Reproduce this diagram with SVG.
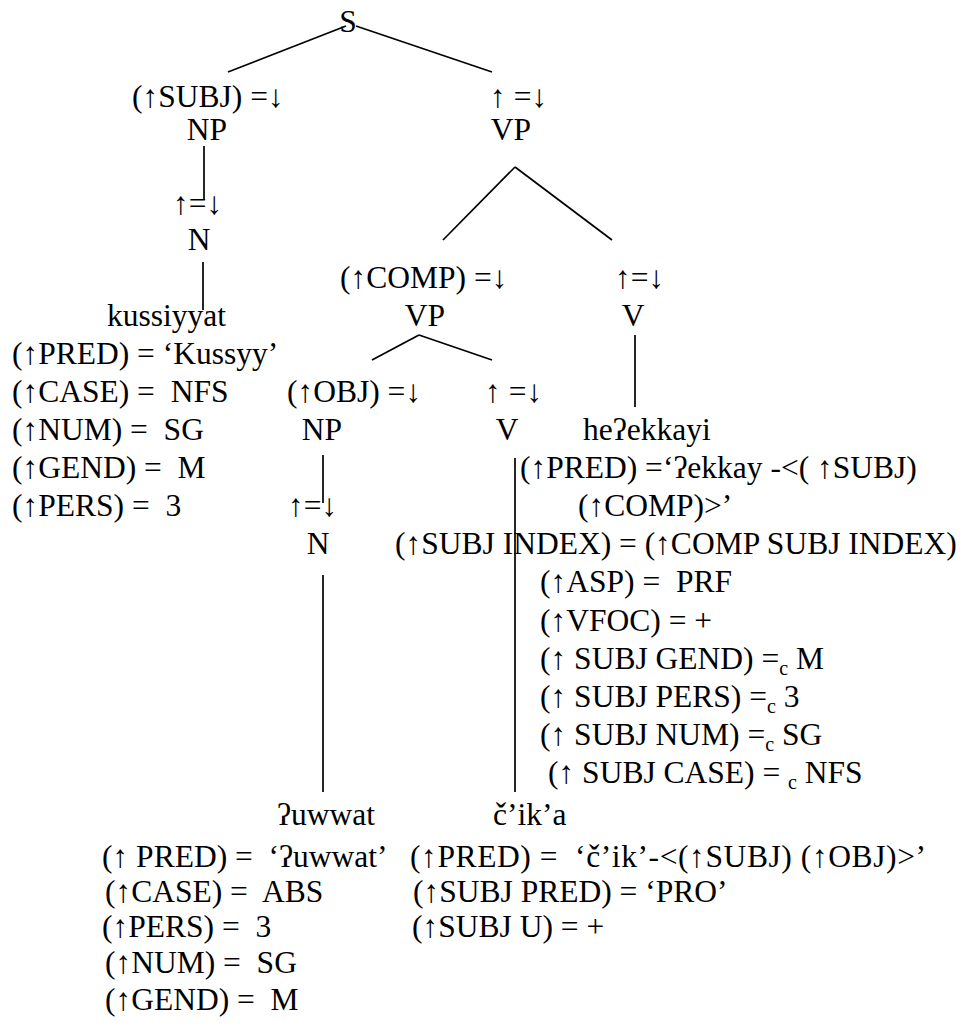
<svg xmlns="http://www.w3.org/2000/svg" width="967" height="1027" viewBox="0 0 967 1027" xml:space="preserve">
<style>
text{font-family:'Liberation Serif','Times New Roman',serif;font-size:31.5px;fill:#000;white-space:pre}
.m{text-anchor:middle}
.sub{font-size:20px}
line{stroke:#000;stroke-width:1.7;stroke-linecap:butt}
</style>
<rect width="967" height="1027" fill="#fff"/>
<g id="connectors">
<line x1="228" y1="72" x2="346" y2="26"/>
<line x1="356" y1="26" x2="492" y2="72"/>
<line x1="204" y1="146" x2="204" y2="200"/>
<line x1="203" y1="262" x2="203" y2="310"/>
<line x1="515" y1="167" x2="443" y2="240"/>
<line x1="515" y1="167" x2="612" y2="240"/>
<line x1="419" y1="335" x2="372" y2="360"/>
<line x1="419" y1="335" x2="492" y2="360"/>
<line x1="635" y1="335" x2="635" y2="407"/>
<line x1="323" y1="455" x2="323" y2="503"/>
<line x1="323" y1="575" x2="323" y2="792"/>
<line x1="515" y1="458" x2="515" y2="792"/>
</g>
<g id="S"><text class="m" x="348" y="32">S</text></g>
<g id="NP-subj">
<text x="132" y="107">(↑SUBJ) =↓</text>
<text class="m" x="207" y="140">NP</text>
</g>
<g id="VP-main">
<text x="490" y="107">↑ =↓</text>
<text class="m" x="511" y="140">VP</text>
</g>
<g id="N-subj">
<text x="173" y="214">↑=↓</text>
<text class="m" x="199" y="250">N</text>
</g>
<g id="kussiyyat">
<text x="107" y="326">kussiyyat</text>
<text x="12" y="364">(↑PRED) = ‘Kussyy’</text>
<text x="12" y="402">(↑CASE) =  NFS</text>
<text x="12" y="440">(↑NUM) =  SG</text>
<text x="12" y="478">(↑GEND) =  M</text>
<text x="12" y="516">(↑PERS) =  3</text>
</g>
<g id="VP-comp">
<text x="340" y="288">(↑COMP) =↓</text>
<text class="m" x="425" y="326">VP</text>
</g>
<g id="V-main">
<text x="615" y="288">↑=↓</text>
<text class="m" x="633" y="326">V</text>
</g>
<g id="NP-obj">
<text x="287" y="402">(↑OBJ) =↓</text>
<text class="m" x="322" y="440">NP</text>
</g>
<g id="V-comp">
<text x="485" y="402">↑ =↓</text>
<text class="m" x="507" y="440">V</text>
</g>
<g id="heekkayi">
<text x="583" y="440">heʔekkayi</text>
<text x="520" y="478">(↑PRED) =‘ʔekkay -&lt;( ↑SUBJ)</text>
<text x="578" y="516">(↑COMP)&gt;’</text>
<text x="395" y="554">(↑SUBJ INDEX) = (↑COMP SUBJ INDEX)</text>
<text x="540" y="592">(↑ASP) =  PRF</text>
<text x="540" y="631">(↑VFOC) = +</text>
<text x="540" y="669">(↑ SUBJ GEND) =<tspan class="sub" dy="6">c</tspan><tspan dy="-6"> M</tspan></text>
<text x="540" y="707">(↑ SUBJ PERS) =<tspan class="sub" dy="6">c</tspan><tspan dy="-6"> 3</tspan></text>
<text x="540" y="745">(↑ SUBJ NUM) =<tspan class="sub" dy="6">c</tspan><tspan dy="-6"> SG</tspan></text>
<text x="548" y="783">(↑ SUBJ CASE) = <tspan class="sub" dy="6">c</tspan><tspan dy="-6"> NFS</tspan></text>
</g>
<g id="N-obj">
<text x="288" y="516">↑=↓</text>
<text class="m" x="318" y="554">N</text>
</g>
<g id="uwwat">
<text x="277" y="825">ʔuwwat</text>
<text x="102" y="867">(↑ PRED) =  ‘ʔuwwat’</text>
<text x="105" y="902">(↑CASE) =  ABS</text>
<text x="102" y="937">(↑PERS) =  3</text>
<text x="105" y="973">(↑NUM) =  SG</text>
<text x="105" y="1010">(↑GEND) =  M</text>
</g>
<g id="cika">
<text x="493" y="825">č’ik’a</text>
<text x="410" y="867" textLength="516" lengthAdjust="spacing">(↑PRED) =  ‘č’ik’-&lt;(↑SUBJ) (↑OBJ)&gt;’</text>
<text x="413" y="902">(↑SUBJ PRED) = ‘PRO’</text>
<text x="412" y="937">(↑SUBJ U) = +</text>
</g>
</svg>
